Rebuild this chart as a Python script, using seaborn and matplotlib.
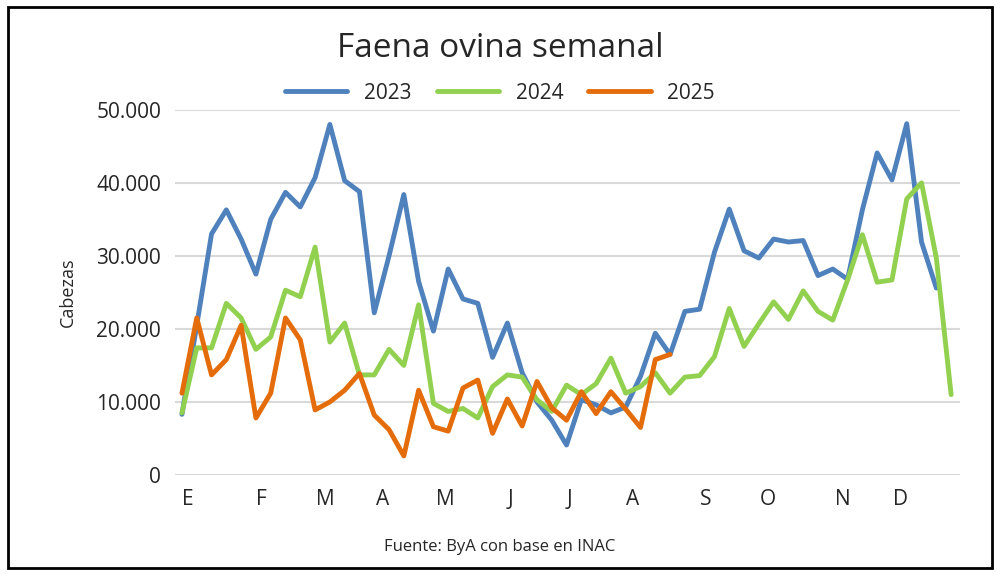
import numpy as np
import pandas as pd
import matplotlib
matplotlib.use("Agg")
import matplotlib.pyplot as plt
import seaborn as sns

# weekly slaughter, heads
y2023 = [8300, 20500, 33000, 36300, 32300, 27500, 35000, 38700, 36700, 40700,
         48000, 40300, 38800, 22200, 30000, 38400, 26500, 19700, 28200, 24100,
         23500, 16100, 20800, 14000, 10000, 7500, 4100, 10300, 9600, 8500,
         9300, 13500, 19400, 16500, 22400, 22700, 30500, 36400, 30700, 29700,
         32300, 31900, 32100, 27300, 28200, 26800, 36300, 44100, 40400, 48100,
         31900, 25600]
y2024 = [8500, 17400, 17400, 23500, 21500, 17200, 18900, 25300, 24400, 31200,
         18200, 20800, 13700, 13700, 17200, 15000, 23300, 9800, 8700, 9100,
         7800, 12100, 13700, 13400, 10300, 8700, 12300, 11000, 12500, 16000,
         11200, 12100, 14000, 11200, 13400, 13600, 16200, 22800, 17600, 20700,
         23700, 21300, 25200, 22400, 21200, 26700, 32900, 26400, 26700, 37800,
         40000, 29700, 11000]
y2025 = [11200, 21500, 13700, 15800, 20500, 7800, 11200, 21500, 18500, 8900,
         10000, 11600, 13900, 8200, 6200, 2600, 11600, 6600, 6000, 11900,
         13000, 5700, 10400, 6700, 12800, 9200, 7500, 11400, 8400, 11400,
         9000, 6500, 15800, 16500]
month_labels = ["E", "F", "M", "A", "M", "J", "J", "A", "S", "O", "N", "D"]
month_weeks = [0.4, 5.4, 9.7, 13.6, 17.8, 22.2, 26.2, 30.5, 35.4, 39.6, 44.7, 48.6]

frames = []
for year, vals in [("2023", y2023), ("2024", y2024), ("2025", y2025)]:
    frames.append(pd.DataFrame({"semana": np.arange(len(vals)), "cabezas": vals, "año": year}))
df = pd.concat(frames, ignore_index=True)

sns.set_style("white")
plt.rcParams['font.family'] = ['Open Sans', 'DejaVu Sans']
fig = plt.figure(figsize=(10, 5.75), dpi=100)
ax = fig.add_axes([0.175, 0.174, 0.785, 0.635])

palette = {"2023": "#4F81BD", "2024": "#92D050", "2025": "#E46C0A"}
sns.lineplot(data=df, x="semana", y="cabezas", hue="año", palette=palette,
             linewidth=3.5, ax=ax, legend=False)

ax.set_xlim(-0.47, 52.6)
ax.set_ylim(0, 50000)
ax.set_yticks(range(0, 50001, 10000))
ax.set_yticklabels([f"{v:,}".replace(",", ".") for v in range(0, 50001, 10000)], fontsize=15)
ax.set_xticks(month_weeks)
ax.set_xticklabels(month_labels, fontsize=15)
ax.tick_params(axis="both", length=0, pad=10)
ax.grid(axis="y", color="#d9d9d9", linewidth=1.5)
for s in ax.spines.values():
    s.set_visible(False)
ax.set_xlabel("")
ax.set_ylabel("Cabezas", fontsize=13, labelpad=14)

fig.text(0.5, 0.915, "Faena ovina semanal", ha="center", va="center", fontsize=24)
handles = [plt.Line2D([], [], color=palette[k], lw=3.5) for k in ["2023", "2024", "2025"]]
fig.legend(handles, ["2023", "2024", "2025"], loc="center", bbox_to_anchor=(0.5, 0.838),
           ncol=3, frameon=False, fontsize=15, handlelength=3, columnspacing=1.2)
fig.text(0.5, 0.048, "Fuente: ByA con base en INAC", ha="center", va="center", fontsize=12)

fig.patches.append(plt.Rectangle((0.008, 0.012), 0.984, 0.976, transform=fig.transFigure,
                                 fill=False, edgecolor="black", linewidth=2))
fig.savefig("out.png", dpi=100)
